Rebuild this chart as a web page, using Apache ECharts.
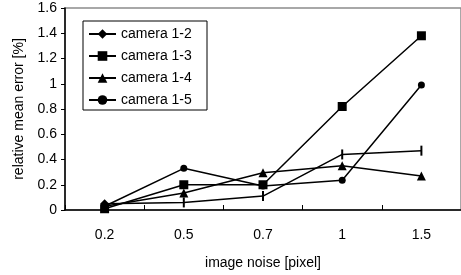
<!DOCTYPE html>
<html>
<head>
<meta charset="utf-8">
<script src="https://cdn.jsdelivr.net/npm/echarts@6/dist/echarts.min.js"></script>
<style>
  html, body { margin: 0; padding: 0; background: #fff; }
  #chart { width: 461px; height: 275px; }
</style>
</head>
<body>
<div id="chart"></div>
<script>
// image noise levels on the x axis
var noiseLevels = ['0.2', '0.5', '0.7', '1', '1.5'];
var seriesNames = ['camera 1-2', 'camera 1-3', 'camera 1-4', 'camera 1-5'];

// relative mean error [%]
var cam12 = [0.05, 0.06, 0.11, 0.44, 0.47];
var cam13 = [0.01, 0.20, 0.20, 0.82, 1.38];
var cam14 = [0.03, 0.135, 0.295, 0.35, 0.27];
var cam15 = [0.03, 0.33, 0.19, 0.235, 0.99];

var barMark = 'path://M0,0 L1,0 L1,10 L0,10 Z';
var font = 'Liberation Sans, Arial, sans-serif';

var chart = echarts.init(document.getElementById('chart'), null, {
  renderer: 'canvas',
  width: 461,
  height: 275,
});

function lineSeries(name, values, symbol, size) {
  return {
    name: name,
    type: 'line',
    data: values,
    symbol: symbol,
    symbolSize: size,
    showAllSymbol: true,
    lineStyle: { color: '#000', width: 1.5 },
    itemStyle: { color: '#000' },
    emphasis: { disabled: true },
    z: 3,
  };
}

// camera 1-2 shows a diamond only at the first point, bars elsewhere
var cam12Series = lineSeries(seriesNames[0], cam12.map(function (v, i) {
  return i === 0 ? { value: v } : { value: v, symbol: barMark, symbolSize: [2, 10] };
}), 'diamond', 9);

var option = {
  animation: false,
  backgroundColor: '#fff',
  textStyle: { fontFamily: font },
  grid: {
    left: 65,
    top: 8,
    right: -4,
    bottom: 61,
    show: true,
    borderColor: '#8c8c8c',
    borderWidth: 1.5,
  },
  legend: {
    orient: 'vertical',
    left: 83,
    top: 21,
    padding: [5, 6, 2, 5],
    itemGap: 6,
    itemWidth: 27,
    itemHeight: 12,
    borderColor: '#000',
    borderWidth: 1,
    backgroundColor: '#fff',
    selectedMode: false,
    data: seriesNames,
    textStyle: { fontFamily: font, fontSize: 14, lineHeight: 16, width: 80, color: '#000' },
  },
  xAxis: {
    type: 'category',
    data: noiseLevels,
    boundaryGap: true,
    name: 'image noise [pixel]',
    nameLocation: 'middle',
    nameGap: 46,
    nameTextStyle: { fontFamily: font, fontSize: 14, color: '#000' },
    axisLine: { lineStyle: { color: '#000', width: 1.5 } },
    axisTick: { show: true, inside: true, length: 5, interval: 0, lineStyle: { color: '#000', width: 1 } },
    axisLabel: { margin: 18, fontFamily: font, fontSize: 14, color: '#000' },
    splitLine: { show: false },
  },
  yAxis: {
    type: 'value',
    min: 0,
    max: 1.6,
    interval: 0.2,
    name: 'relative mean error [%]',
    nameLocation: 'middle',
    nameGap: 32,
    nameTextStyle: { fontFamily: font, fontSize: 14, color: '#000' },
    axisLine: { show: true, lineStyle: { color: '#000', width: 1.5 } },
    axisTick: { show: true, inside: false, length: 4, lineStyle: { color: '#000', width: 1 } },
    axisLabel: { margin: 8, fontFamily: font, fontSize: 14, color: '#000' },
    splitLine: { show: false },
  },
  series: [
    cam12Series,
    lineSeries(seriesNames[1], cam13, 'rect', 9),
    lineSeries(seriesNames[2], cam14, 'triangle', 9),
    lineSeries(seriesNames[3], cam15, 'circle', 7),
  ],
};

chart.setOption(option);
</script>
</body>
</html>
